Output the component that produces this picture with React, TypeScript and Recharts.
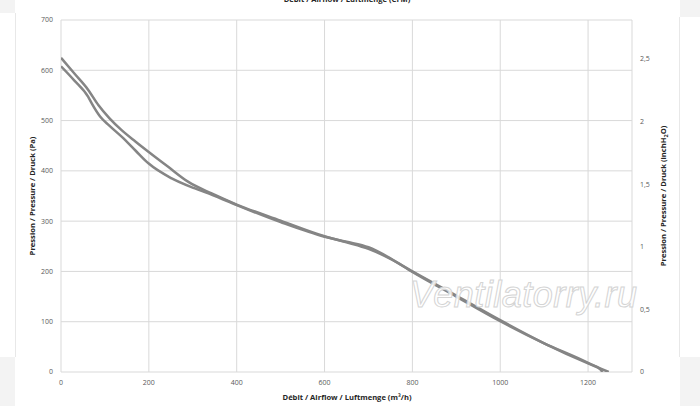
import React from "react";
import { LineChart, Line, XAxis, YAxis, CartesianGrid } from "recharts";

// Airflow (m³/h) / pressure (Pa) points for the two curves
const curveAFlow = [0, 30, 62, 85, 110, 138, 170, 199, 244, 290, 343, 400, 500, 600, 650, 700, 750, 800, 900, 1000, 1100, 1200, 1247];
const curveAPres = [625, 594, 561, 531, 505, 481, 458, 438, 408, 378, 355, 333, 301, 270, 258, 245, 225, 200, 152, 103, 57, 17, 0];
const curveBFlow = [0, 30, 62, 70, 89, 110, 138, 170, 199, 252, 305, 345, 400, 500, 600, 650, 700, 750, 800, 900, 1000, 1100, 1200, 1228, 1233];
const curveBPres = [608, 580, 547, 534, 508, 490, 468, 440, 415, 385, 365, 352, 332, 298, 269, 259, 248, 226, 199, 150, 101, 57, 18, 5, 0];

const bottomTicks = [0, 200, 400, 600, 800, 1000, 1200];
const topTicks = [0, 100, 200, 300, 400, 500, 600, 700];
const leftTicks = [0, 100, 200, 300, 400, 500, 600, 700];
const rightTicks = [0, 0.5, 1, 1.5, 2, 2.5];

const M3H_PER_CFM = 1.699;
const PA_PER_INH2O = 249.089;
const X_MAX = 1300;
const Y_MAX = 700;

const seriesA = curveAFlow.map((x, i) => ({ x, y: curveAPres[i] }));
const seriesB = curveBFlow.map((x, i) => ({ x, y: curveBPres[i] }));

const FONT = "'Open Sans', 'Liberation Sans', sans-serif";
const tickStyle = { fontSize: 7, fill: "#595959", fontFamily: FONT };
const TITLE_SIZE = 7.6;

const BottomTitle = () => (
  <text x={347} y={400} textAnchor="middle" fontSize={TITLE_SIZE} fontWeight="bold" fill="#262626" fontFamily={FONT}>
    Débit / Airflow / Luftmenge (m³/h)
  </text>
);
const TopTitle = () => (
  <text x={347} y={2} textAnchor="middle" fontSize={TITLE_SIZE} fontWeight="bold" fill="#262626" fontFamily={FONT}>
    Débit / Airflow / Luftmenge (CFM)
  </text>
);
const LeftTitle = () => (
  <text x={0} y={0} transform="translate(35,196) rotate(-90)" textAnchor="middle" fontSize={TITLE_SIZE} fontWeight="bold" fill="#262626" fontFamily={FONT}>
    Pression / Pressure / Druck (Pa)
  </text>
);
const RightTitle = () => (
  <text x={0} y={0} transform="translate(666,196) rotate(-90)" textAnchor="middle" fontSize={TITLE_SIZE} fontWeight="bold" fill="#262626" fontFamily={FONT}>
    Pression / Pressure / Druck (inchH<tspan fontSize={5.5} dy={2}>2</tspan><tspan dy={-2}>O)</tspan>
  </text>
);

const fmtComma = (v: number) => String(v).replace(".", ",");

export default function App() {
  return (
    <div style={{ position: "absolute", left: 0, top: 0, width: 700, height: 406, background: "#ffffff", overflow: "hidden" }}>
      <div style={{ position: "absolute", left: 0, top: 0, width: 15, height: 13, background: "#f3f3f3" }} />
      <div style={{ position: "absolute", left: 680, top: 0, width: 20, height: 17, background: "#f3f3f3" }} />
      <div style={{ position: "absolute", left: 0, top: 357, width: 15, height: 49, background: "#f3f3f3" }} />
      <div style={{ position: "absolute", left: 680, top: 357, width: 20, height: 49, background: "#f3f3f3" }} />
      <div style={{ position: "absolute", left: 15, top: 13, width: 1, height: 344, background: "#e8e8e8" }} />
      <div style={{ position: "absolute", left: 679, top: 17, width: 1, height: 340, background: "#e8e8e8" }} />
      <div style={{ position: "absolute", left: 0, top: 0 }}>
        <LineChart width={700} height={406} margin={{ top: 0, right: 0, bottom: 0, left: 0 }}>
          <CartesianGrid xAxisId="bottom" yAxisId="left" stroke="#d9d9d9" strokeWidth={1} />
          <XAxis
            xAxisId="bottom"
            type="number"
            dataKey="x"
            domain={[0, X_MAX]}
            ticks={bottomTicks}
            orientation="bottom"
            height={34}
            tickLine={false}
            axisLine={false}
            tick={tickStyle}
            interval={0}
            allowDataOverflow
            label={<BottomTitle />}
          />
          <XAxis
            xAxisId="top"
            type="number"
            domain={[0, X_MAX / M3H_PER_CFM]}
            ticks={topTicks}
            orientation="top"
            height={20}
            tickLine={false}
            axisLine={false}
            tick={tickStyle}
            interval={0}
            allowDataOverflow
            label={<TopTitle />}
          />
          <YAxis
            yAxisId="left"
            type="number"
            domain={[0, Y_MAX]}
            ticks={leftTicks}
            width={61}
            tickLine={false}
            axisLine={false}
            tick={tickStyle}
            interval={0}
            allowDataOverflow
            label={<LeftTitle />}
          />
          <YAxis
            yAxisId="right"
            orientation="right"
            type="number"
            domain={[0, Y_MAX / PA_PER_INH2O]}
            ticks={rightTicks}
            tickFormatter={fmtComma}
            width={68}
            tickLine={false}
            axisLine={false}
            tick={tickStyle}
            interval={0}
            allowDataOverflow
            label={<RightTitle />}
          />
          <Line
            xAxisId="bottom"
            yAxisId="left"
            data={seriesA}
            dataKey="y"
            type="monotone"
            stroke="#858585"
            strokeWidth={2.5}
            dot={false}
            isAnimationActive={false}
          />
          <Line
            xAxisId="bottom"
            yAxisId="left"
            data={seriesB}
            dataKey="y"
            type="monotone"
            stroke="#858585"
            strokeWidth={2.5}
            dot={false}
            isAnimationActive={false}
          />
        </LineChart>
      </div>
      <div
        style={{
          position: "absolute",
          left: 410,
          top: 275,
          fontFamily: "'Liberation Sans', Arial, sans-serif",
          fontStyle: "italic",
          fontSize: 36,
          letterSpacing: 0.5,
          color: "rgba(255,255,255,0.85)",
          WebkitTextStroke: "1px #d4d4d4",
          whiteSpace: "nowrap",
          lineHeight: "40px",
        }}
      >
        Ventilatorry.ru
      </div>
    </div>
  );
}
